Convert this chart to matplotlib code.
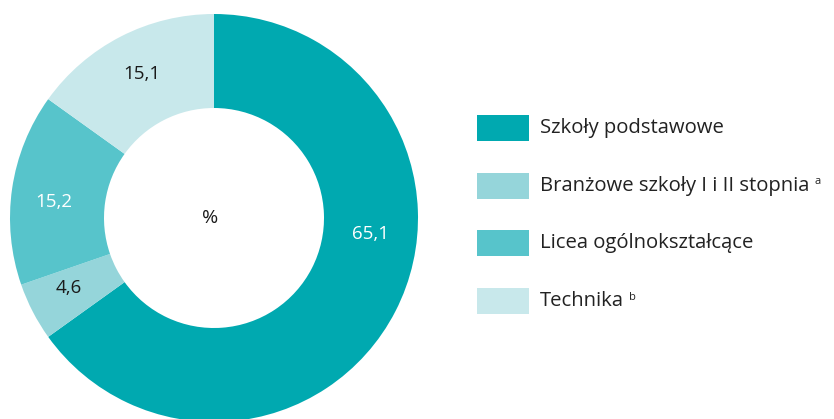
import numpy as np
import matplotlib.pyplot as plt
from matplotlib.patches import Rectangle

plt.rcParams['font.family'] = ['Open Sans', 'DejaVu Sans']

categories = ['Szkoły podstawowe', 'Branżowe szkoły I i II stopnia', 'Licea ogólnokształcące', 'Technika']
notes = ['', 'a', '', 'b']
values = [65.1, 4.6, 15.2, 15.1]
value_labels = ['65,1', '4,6', '15,2', '15,1']
colors = ['#00A9B0', '#95D5DA', '#57C4CB', '#C8E8EB']
label_colors = ['white', '#1a1a1a', 'white', '#1a1a1a']

W, H = 834, 419
fig = plt.figure(figsize=(W / 100, H / 100), dpi=100)
ax = fig.add_axes([0, 0, 1, 1])

cx, cy = 214, H - 218
R, r = 204, 110
wedges, _ = ax.pie(values, colors=colors, startangle=90, counterclock=False,
                   radius=R, center=(cx, cy),
                   wedgeprops=dict(width=R - r, linewidth=0))
ax.set_xlim(0, W)
ax.set_ylim(0, H)
ax.set_aspect('equal')
ax.axis('off')

# value labels in the ring (angle tweaks to match the original placement)
tweak = [None, -1.5, 2.5, -0.5]
for i, w in enumerate(wedges):
    ang = (w.theta1 + w.theta2) / 2
    rad = (R + r) / 2 + 4
    if i == 0:
        ang = -6  # big slice: label sits near the right side
        rad = (R + r) / 2
    else:
        ang += tweak[i]
    x = cx + rad * np.cos(np.radians(ang))
    y = cy + rad * np.sin(np.radians(ang))
    ax.text(x, y, value_labels[i], color=label_colors[i], fontsize=13.5,
            ha='center', va='center')

ax.text(cx - 4, cy, '%', fontsize=14, color='#1a1a1a', ha='center', va='center')

# legend
fig.canvas.draw()
ren = fig.canvas.get_renderer()
for i, (cat, col) in enumerate(zip(categories, colors)):
    yc = H - (128 + i * 57.7)
    ax.add_patch(Rectangle((477, yc - 13), 52, 26, facecolor=col, edgecolor='none'))
    t = ax.text(540, yc, cat, fontsize=14.6, color='#222222', ha='left', va='center')
    if notes[i]:
        bb = t.get_window_extent(ren)
        ax.text(bb.x1 + 5, yc + 4, notes[i], fontsize=8, color='#222222',
                ha='left', va='center')

fig.savefig('out.png', dpi=100)
